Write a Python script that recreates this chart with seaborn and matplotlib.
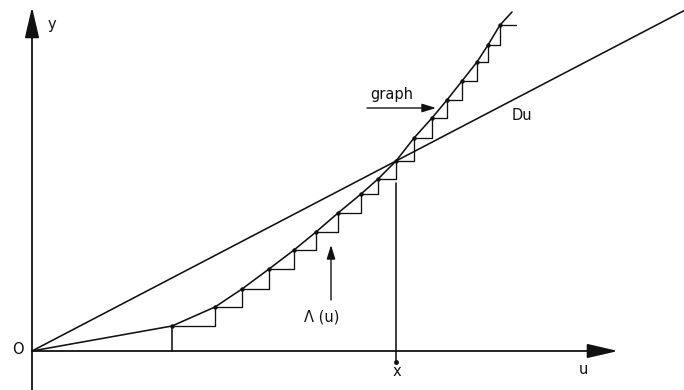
import matplotlib
matplotlib.use("Agg")
import matplotlib.pyplot as plt
import numpy as np
import pandas as pd
import seaborn as sns

sns.set_style("white")
plt.rcParams["font.family"] = ["DejaVu Sans"]

# Break points of the polygonal graph of Lambda(u)
knot_u = [140, 183, 210, 237, 262, 284, 306, 329, 346, 364, 382, 400, 415, 430, 445, 456, 468]
knot_y = [25, 44, 62, 82, 101, 119, 138, 157, 172, 190, 213, 233, 251, 270, 289, 306, 326]
# Ends of the graph (origin and continuation past the last knot)
graph_start = (0, 0)
graph_end = (480, 339)
# Slope D of the supporting line y = D u, and the touching abscissa x
D = 0.522
x_touch = 364
u_max = 652

INK = "#111111"
LW = 1.15

fig = plt.figure(figsize=(6.84, 3.90), dpi=100)
ax = fig.add_axes([0, 0, 1, 1])
ax.set_xlim(-32, 652)
ax.set_ylim(-39, 351)
ax.axis("off")

# graph of Lambda
gu = [graph_start[0]] + knot_u + [graph_end[0]]
gy = [graph_start[1]] + knot_y + [graph_end[1]]
graph_df = pd.DataFrame({"u": gu, "y": gy})
sns.lineplot(data=graph_df, x="u", y="y", ax=ax, color=INK, lw=LW, sort=False,
             estimator=None)

# staircase under the graph
step_u = knot_u + [knot_u[-1] + 16]
step_y = knot_y + [knot_y[-1]]
step_df = pd.DataFrame({"u": step_u, "y": step_y})
sns.lineplot(data=step_df, x="u", y="y", ax=ax, color=INK, lw=0.95, sort=False,
             estimator=None, drawstyle="steps-post")

# knots
sns.scatterplot(x=knot_u, y=knot_y, ax=ax, color=INK, s=10, linewidth=0, zorder=5)

# supporting line D u
line_df = pd.DataFrame({"u": [0, u_max], "y": [0, D * u_max]})
sns.lineplot(data=line_df, x="u", y="y", ax=ax, color=INK, lw=LW, estimator=None)

# verticals down to the axis
ax.plot([knot_u[0], knot_u[0]], [knot_y[0], 0], color=INK, lw=LW)
ax.plot([x_touch, x_touch], [knot_y[knot_u.index(x_touch)] - 22, -12], color=INK, lw=LW)
ax.plot([x_touch], [-11], marker="o", ms=2.5, color=INK)

# axes with arrow heads
axis_arrow = dict(arrowstyle="-|>,head_length=0.95,head_width=0.22", mutation_scale=20,
                  lw=1.3, color=INK, shrinkA=0, shrinkB=0)
ax.annotate("", xy=(0, 344), xytext=(0, -39), arrowprops=axis_arrow)
ax.annotate("", xy=(586, 0), xytext=(0, 0), arrowprops=axis_arrow)

# pointer arrows
small_arrow = dict(arrowstyle="-|>,head_length=0.42,head_width=0.13", mutation_scale=20,
                   lw=1.0, color=INK, shrinkA=0, shrinkB=0)
ax.annotate("", xy=(299, 106), xytext=(299, 51), arrowprops=small_arrow)
ax.annotate("", xy=(404, 243), xytext=(335, 243), arrowprops=small_arrow)

# labels
fs = 10.5
ax.text(20, 326, "y", fontsize=fs, ha="center", va="center", color=INK)
ax.text(-14, 1, "O", fontsize=fs, ha="center", va="center", color=INK)
ax.text(551, -19, "u", fontsize=fs, ha="center", va="center", color=INK)
ax.text(365, -21, "x", fontsize=fs, ha="center", va="center", color=INK)
ax.text(490, 236, "Du", fontsize=fs, ha="center", va="center", color=INK)
ax.text(360, 257, "graph", fontsize=fs, ha="center", va="center", color=INK)
ax.text(290, 34, "Λ (u)", fontsize=fs, ha="center", va="center", color=INK)

fig.savefig("out.png", dpi=100)
